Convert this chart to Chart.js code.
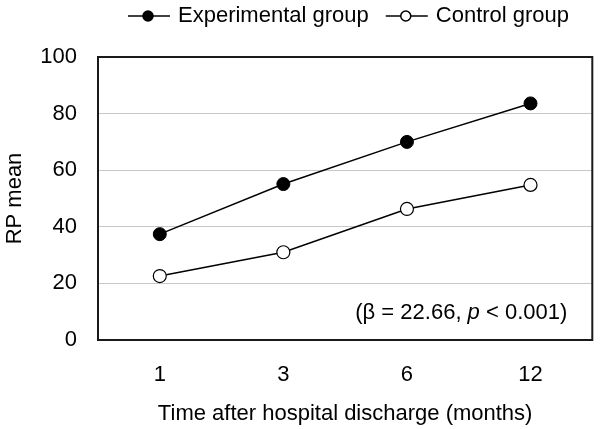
<!DOCTYPE html>
<html>
<head>
<meta charset="utf-8">
<script src="https://cdn.jsdelivr.net/npm/chart.js@4"></script>
<style>
  html, body { margin: 0; padding: 0; background: #fff; }
  #wrap { width: 600px; height: 429px; }
</style>
</head>
<body>
<div id="wrap"><canvas id="lineChart"></canvas></div>
<script>
const months = ["1", "3", "6", "12"]
const experimental = [37.4, 55.1, 70.0, 83.6]
const control = [22.6, 31.0, 46.3, 54.8]
const yTicks = [0, 20, 40, 60, 80, 100]

const FONT = "'Liberation Sans', Arial, sans-serif"

// box round the plot area
const frame = {
    id: 'frame',
    afterDraw(chart) {
        const { ctx, chartArea: a } = chart
        ctx.save()
        ctx.strokeStyle = '#1a1a1a'
        ctx.lineWidth = 2
        ctx.strokeRect(a.left, a.top, a.right - a.left, a.bottom - a.top)
        ctx.restore()
    }
}

// legend with line + marker, and the stats note
const extras = {
    id: 'extras',
    afterDraw(chart) {
        const { ctx, chartArea: a } = chart
        ctx.save()
        ctx.font = '22px ' + FONT
        ctx.textBaseline = 'middle'
        ctx.fillStyle = '#000'
        const y = 16
        let x = 128
        chart.data.datasets.forEach((ds, i) => {
            ctx.strokeStyle = '#000'
            ctx.lineWidth = 1.5
            ctx.beginPath()
            ctx.moveTo(x, y)
            ctx.lineTo(x + 42, y)
            ctx.stroke()
            ctx.beginPath()
            ctx.arc(x + 20, y, 5, 0, Math.PI * 2)
            ctx.fillStyle = ds.pointBackgroundColor
            ctx.fill()
            ctx.stroke()
            ctx.fillStyle = '#000'
            ctx.textAlign = 'left'
            ctx.fillText(ds.label, x + 50, y)
            x += 50 + ctx.measureText(ds.label).width + 17
        })

        // (β = 22.66, p < 0.001)
        const parts = [['(β = 22.66, ', 'normal'], ['p', 'italic'], [' < 0.001)', 'normal']]
        let w = 0
        parts.forEach(p => { ctx.font = p[1] + ' 22px ' + FONT; w += ctx.measureText(p[0]).width })
        let tx = a.right - 25 - w
        const ty = a.bottom - 27
        parts.forEach(p => {
            ctx.font = p[1] + ' 22px ' + FONT
            ctx.textAlign = 'left'
            ctx.fillText(p[0], tx, ty)
            tx += ctx.measureText(p[0]).width
        })
        ctx.restore()
    }
}

new Chart(document.getElementById('lineChart').getContext('2d'), {
    type: 'line',
    data: {
        labels: months,
        datasets: [
            {
                label: 'Experimental group',
                data: experimental,
                borderColor: '#000',
                borderWidth: 1.5,
                pointRadius: 6.5,
                pointBackgroundColor: '#000',
                pointBorderColor: '#000',
                pointBorderWidth: 1
            },
            {
                label: 'Control group',
                data: control,
                borderColor: '#000',
                borderWidth: 1.5,
                pointRadius: 6.5,
                pointBackgroundColor: '#fff',
                pointBorderColor: '#000',
                pointBorderWidth: 1.2
            }
        ]
    },
    options: {
        responsive: true,
        maintainAspectRatio: false,
        animation: false,
        layout: { padding: { top: 57, right: 6, left: 0, bottom: 2 } },
        plugins: {
            legend: { display: false },
            tooltip: { enabled: false }
        },
        scales: {
            x: {
                offset: true,
                afterFit(axis) { axis.height = 87 },
                grid: { display: false, drawTicks: false },
                border: { display: false },
                ticks: { color: '#000', font: { family: FONT, size: 22 }, padding: 22 },
                title: {
                    display: true,
                    text: 'Time after hospital discharge (months)',
                    color: '#000',
                    font: { family: FONT, size: 22 },
                    padding: { top: 6, bottom: 0 }
                }
            },
            y: {
                min: 0,
                max: 100,
                afterFit(axis) { axis.width = 98 },
                afterBuildTicks(axis) { axis.ticks = yTicks.map(v => ({ value: v })) },
                grid: { color: '#c8c8c8', lineWidth: 1, drawTicks: false },
                border: { display: false },
                ticks: { color: '#000', font: { family: FONT, size: 22 }, padding: 21 },
                title: {
                    display: true,
                    text: 'RP mean',
                    color: '#000',
                    font: { family: FONT, size: 22 },
                    padding: { top: 2, bottom: 0 }
                }
            }
        }
    },
    plugins: [frame, extras]
})
</script>
</body>
</html>
